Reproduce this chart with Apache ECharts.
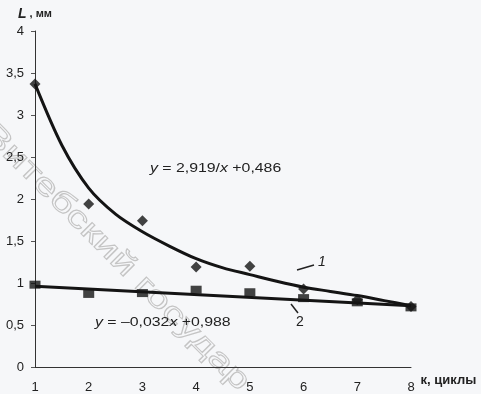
<!DOCTYPE html>
<html><head><meta charset="utf-8">
<script src="https://cdn.jsdelivr.net/npm/echarts@6/dist/echarts.min.js"></script>
<style>html,body{margin:0;padding:0;background:#f6f7f9}#c{width:481px;height:394px}</style>
</head><body><div id="c"></div>
<script>
// Data
const cycles = [1, 2, 3, 4, 5, 6, 7, 8];
const series1 = [3.37, 1.94, 1.74, 1.19, 1.20, 0.93, 0.80, 0.72];   // diamonds, curve 1
const series2 = [0.98, 0.87, 0.88, 0.92, 0.89, 0.82, 0.77, 0.71];   // squares, line 2
const curve1X = [1, 1.5, 2, 2.5, 3, 3.5, 4, 4.5, 5, 5.5, 6, 6.5, 7, 7.5, 8];
const curve1Y = [3.37, 2.64, 2.13, 1.82, 1.61, 1.44, 1.29, 1.18, 1.10, 1.02, 0.95, 0.90, 0.85, 0.79, 0.73];
const line2X = [1, 8];
const line2Y = [0.96, 0.73];
const yTicks = [0, 0.5, 1, 1.5, 2, 2.5, 3, 3.5, 4];

const zip = (a, b) => a.map((v, i) => [v, b[i]]);
const fmt = v => String(v).replace('.', ',');
const FONT = 'Liberation Sans, Arial, sans-serif';
const INK = '#141414';

const chart = echarts.init(document.getElementById('c'));
chart.setOption({
  backgroundColor: '#f6f7f9',
  animation: false,
  grid: { left: 35, right: 70, top: 31, bottom: 27 },
  xAxis: {
    type: 'value', min: 1, max: 8, interval: 1,
    axisLine: { show: true, lineStyle: { color: '#333', width: 1 } },
    axisTick: { show: false },
    splitLine: { show: false },
    axisLabel: { margin: 14, color: '#222', fontSize: 13, fontFamily: FONT },
    name: 'к, циклы', nameLocation: 'end', nameGap: 6,
    nameTextStyle: { color: '#222', fontSize: 13, fontWeight: 'bold', fontFamily: FONT,
      verticalAlign: 'top', align: 'left', padding: [7, 0, 0, 0] }
  },
  yAxis: {
    type: 'value', min: 0, max: 4, interval: 0.5,
    axisLine: { show: true, lineStyle: { color: '#333', width: 1 } },
    axisTick: { show: true, length: 4, lineStyle: { color: '#555' } },
    splitLine: { show: false },
    axisLabel: { margin: 11, color: '#222', fontSize: 13, fontFamily: FONT,
      formatter: v => yTicks.includes(v) ? fmt(v) : '' },
    name: '{i|L} , мм', nameLocation: 'end', nameGap: 10,
    nameTextStyle: { color: '#222', fontSize: 11, fontWeight: 'bold', fontFamily: FONT,
      rich: { i: { fontStyle: 'italic', fontWeight: 'bold', fontSize: 14, fontFamily: FONT, color: '#222' } } }
  },
  graphic: [
    { type: 'text', x: -2, y: 118, rotation: -Math.PI / 4, scaleX: 1.4, z: -10,
      style: { text: 'Витебский государ', font: '30px ' + FONT, fill: 'rgba(0,0,0,0)', stroke: '#c4c4c4', lineWidth: 1 } },
    { type: 'text', x: 150, y: 163, scaleX: 1.32, z: 50,
      style: { text: '{i|y} = 2,919/{i|x} +0,486', font: '12px ' + FONT, fill: '#222',
        rich: { i: { fontStyle: 'italic', fontSize: 12, fontFamily: FONT, fill: '#222' } } } },
    { type: 'text', x: 95, y: 317, scaleX: 1.32, z: 50,
      style: { text: '{i|y} = –0,032{i|x} +0,988', font: '12px ' + FONT, fill: '#222',
        rich: { i: { fontStyle: 'italic', fontSize: 12, fontFamily: FONT, fill: '#222' } } } },
    { type: 'line', z: 50, shape: { x1: 297, y1: 270, x2: 314, y2: 265 }, style: { stroke: '#222', lineWidth: 1.5 } },
    { type: 'text', x: 318, y: 255, z: 50,
      style: { text: '1', font: 'italic 14px ' + FONT, fill: '#222' } },
    { type: 'line', z: 50, shape: { x1: 291, y1: 304, x2: 298, y2: 313 }, style: { stroke: '#222', lineWidth: 1.5 } },
    { type: 'text', x: 296, y: 315, z: 50,
      style: { text: '2', font: '14px ' + FONT, fill: '#222' } }
  ],
  series: [
    { type: 'line', data: zip(curve1X, curve1Y), smooth: 0.3, showSymbol: false, symbol: 'none',
      lineStyle: { color: INK, width: 3 }, z: 3 },
    { type: 'line', data: zip(line2X, line2Y), showSymbol: false, symbol: 'none',
      lineStyle: { color: INK, width: 3 }, z: 3 },
    { type: 'scatter', data: zip(cycles, series1), symbol: 'diamond', symbolSize: 11,
      itemStyle: { color: INK }, z: 4 },
    { type: 'scatter', data: zip(cycles, series2), symbol: 'rect', symbolSize: [11, 8],
      itemStyle: { color: INK }, z: 4 }
  ]
});
</script></body></html>
